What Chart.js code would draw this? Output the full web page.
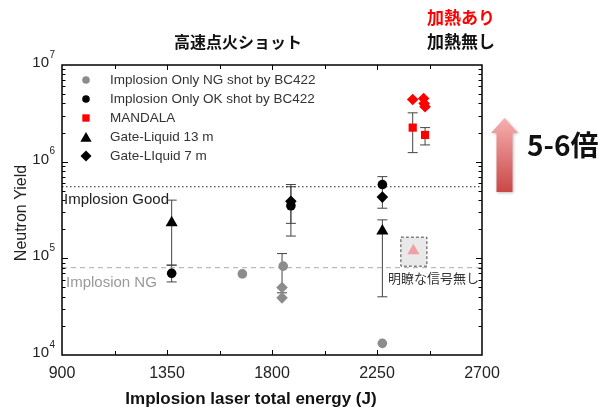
<!DOCTYPE html>
<html>
<head>
<meta charset="utf-8">
<script src="https://cdn.jsdelivr.net/npm/chart.js@4/dist/chart.umd.min.js"></script>
<style>
html,body{margin:0;padding:0;background:#fff}
#wrap{width:598px;height:407px}
</style>
</head>
<body>
<div id="wrap"><canvas id="c" width="598" height="407"></canvas></div>
<script>
// axis ticks
const xTicks=[900,1350,1800,2250,2700];
const yDecades=[1e4,1e5,1e6,1e7];

// series (energy J, neutron yield), error bars as [low, high]
const ngX=[1673,1848,2273];
const ngY=[6.9e4,8.3e4,1.32e4];
const ngDiaX=[1843,1843];
const ngDiaY=[5.0e4,3.9e4];
const ngDiaErr=[[4.4e4,1.12e5],null];
const okX=[1370,1881,2273];
const okY=[7.0e4,3.5e5,5.8e5];
const okErr=[[5.7e4,8.5e4],[1.7e5,5.5e5],[3.3e5,7.0e5]];
const mandalaX=[2403,2456];
const mandalaY=[2.25e6,1.89e6];
const mandalaErr=[[1.24e6,3.2e6],[1.49e6,2.25e6]];
const gl13X=[1370,2273];
const gl13Y=[2.34e5,1.92e5];
const gl13Err=[[8.5e4,4.0e5],[4.0e4,2.5e5]];
const gl7X=[1881,2273];
const gl7Y=[3.9e5,4.3e5];
const gl7Err=[[2.3e5,5.8e5],null];
const heatX=[2403,2450,2456,2452];
const heatY=[4.4e6,4.5e6,3.7e6,4.0e6];
const noSigX=[2406];
const noSigY=[1.2e5];
const goodLevel=5.5e5;
const ngLevel=8e4;

const F='"Liberation Sans", Arial, sans-serif';
const J='"Noto Sans CJK JP", sans-serif';
const pts=(xs,ys)=>xs.map((x,i)=>({x:x,y:ys[i]}));

function mark(ctx,style,x,y,r,color){
  ctx.save();ctx.fillStyle=color;ctx.beginPath();
  if(style==='circle'){ctx.arc(x,y,r,0,Math.PI*2);}
  else if(style==='rect'){const s=r*Math.SQRT1_2;ctx.rect(x-s,y-s,2*s,2*s);}
  else if(style==='rectRot'){ctx.moveTo(x,y-r);ctx.lineTo(x+r,y);ctx.lineTo(x,y+r);ctx.lineTo(x-r,y);ctx.closePath();}
  else if(style==='triangle'){ctx.moveTo(x,y-r);ctx.lineTo(x+r*0.866,y+r/2);ctx.lineTo(x-r*0.866,y+r/2);ctx.closePath();}
  ctx.fill();ctx.restore();
}

const datasets=[
  {label:'Implosion Only NG shot by BC422',data:pts(ngX,ngY),pointStyle:'circle',pointRadius:4.8,backgroundColor:'#8c8c8c',legend:true,lr:3.8},
  {label:'Implosion Only OK shot by BC422',data:pts(okX,okY),pointStyle:'circle',pointRadius:4.8,backgroundColor:'#000',errs:okErr,legend:true,lr:3.8},
  {label:'MANDALA',data:pts(mandalaX,mandalaY),pointStyle:'rect',pointRadius:5.8,backgroundColor:'#ff0000',errs:mandalaErr,legend:true,lr:5.2},
  {label:'Gate-Liquid 13 m',data:pts(gl13X,gl13Y),pointStyle:'triangle',pointRadius:7,backgroundColor:'#000',errs:gl13Err,legend:true,lr:6.5},
  {label:'Gate-LIquid 7 m',data:pts(gl7X,gl7Y),pointStyle:'rectRot',pointRadius:5.8,backgroundColor:'#000',errs:gl7Err,legend:true,lr:5.5},
  {label:'NG diamond',data:pts(ngDiaX,ngDiaY),pointStyle:'rectRot',pointRadius:5.8,backgroundColor:'#8c8c8c',errs:ngDiaErr},
  {label:'heated',data:pts(heatX,heatY),pointStyle:'rectRot',pointRadius:5.8,backgroundColor:'#ff0000'},
  {label:'no signal',data:pts(noSigX,noSigY),pointStyle:'triangle',pointRadius:7,backgroundColor:'#f0a0a4',boxed:true},
  {type:'line',label:'good',data:[{x:900,y:goodLevel},{x:2700,y:goodLevel}],borderColor:'#222',borderWidth:1,borderDash:[1.5,2.5],pointRadius:0},
  {type:'line',label:'ng',data:[{x:900,y:ngLevel},{x:2700,y:ngLevel}],borderColor:'#aaa',borderWidth:1,borderDash:[5,4],pointRadius:0}
];
datasets.forEach(d=>{d.pointBorderWidth=0;d.pointHoverRadius=d.pointRadius;if(!d.type){d.borderColor=d.backgroundColor;d.showLine=false;}});

const frame={
  id:'frame',
  beforeDatasetsDraw(chart){
    const ctx=chart.ctx,ys=chart.scales.y;
    chart.data.datasets.forEach((ds,di)=>{
      const meta=chart.getDatasetMeta(di);
      if(ds.boxed){
        meta.data.forEach(p=>{
          ctx.save();ctx.fillStyle='#e9e9e9';ctx.fillRect(p.x-12,p.y-13,25,28);
          ctx.strokeStyle='#444';ctx.lineWidth=1;ctx.setLineDash([3,2]);ctx.strokeRect(p.x-12.5,p.y-13.5,26,29);ctx.restore();
        });
      }
      if(!ds.errs) return;
      ds.errs.forEach((e,i)=>{
        if(!e) return;
        const p=meta.data[i];
        const y1=ys.getPixelForValue(e[0]),y2=ys.getPixelForValue(e[1]);
        ctx.save();ctx.strokeStyle='#444';ctx.lineWidth=1;ctx.beginPath();
        ctx.moveTo(p.x,y1);ctx.lineTo(p.x,y2);
        ctx.moveTo(p.x-5,y1);ctx.lineTo(p.x+5,y1);
        ctx.moveTo(p.x-5,y2);ctx.lineTo(p.x+5,y2);
        ctx.stroke();ctx.restore();
      });
    });
  },
  afterDraw(chart){
    const ctx=chart.ctx,a=chart.chartArea,xs=chart.scales.x,ys=chart.scales.y;
    ctx.save();
    // frame and inward ticks
    ctx.strokeStyle='#000';ctx.lineWidth=1.5;
    ctx.strokeRect(a.left,a.top,a.right-a.left,a.bottom-a.top);
    ctx.lineWidth=1;ctx.beginPath();
    for(let v=xTicks[0]+225;v<xTicks[xTicks.length-1];v+=225){
      const px=Math.round(xs.getPixelForValue(v))+0.5;
      const len=(v-900)%450===0?5:4;
      ctx.moveTo(px,a.bottom);ctx.lineTo(px,a.bottom-len);
      ctx.moveTo(px,a.top);ctx.lineTo(px,a.top+len);
    }
    for(let d=4;d<7;d++){
      for(let m=1;m<10;m++){
        if(d===4&&m===1) continue;
        const py=Math.round(ys.getPixelForValue(m*Math.pow(10,d)))+0.5;
        const len=m===1?6:3.5;
        ctx.moveTo(a.left,py);ctx.lineTo(a.left+len,py);
        ctx.moveTo(a.right,py);ctx.lineTo(a.right-len,py);
      }
    }
    ctx.stroke();
    // y tick labels 10^n
    ctx.fillStyle='#222';
    yDecades.forEach(v=>{
      const py=ys.getPixelForValue(v);
      ctx.font='15px '+F;ctx.textAlign='right';ctx.textBaseline='middle';
      ctx.fillText('10',49,py-2);
      ctx.font='10px '+F;ctx.textAlign='left';
      ctx.fillText(String(Math.round(Math.log10(v))),49.5,py-10);
    });
    // axis titles
    ctx.font='bold 17px '+F;ctx.textAlign='center';ctx.fillStyle='#111';
    ctx.fillText('Implosion laser total energy (J)',251,399);
    ctx.save();ctx.translate(22,213);ctx.rotate(-Math.PI/2);
    ctx.font='16px '+F;ctx.fillStyle='#222';ctx.fillText('Neutron Yield',0,0);ctx.restore();
    // legend
    let row=0;
    chart.data.datasets.forEach(ds=>{
      if(!ds.legend) return;
      const ly=80+row*19;
      mark(ctx,ds.pointStyle,86,ds.pointStyle==='triangle'?ly+1.5:ly,ds.lr,ds.backgroundColor);
      ctx.font='13.5px '+F;ctx.fillStyle='#333';ctx.textAlign='left';ctx.textBaseline='middle';
      ctx.fillText(ds.label,110,ly);
      row++;
    });
    // level labels
    ctx.font='15px '+F;ctx.textAlign='left';
    ctx.fillStyle='#222';ctx.fillText('Implosion Good',64,200);
    ctx.fillStyle='#999';ctx.fillText('Implosion NG',66,283);
    ctx.font='13px '+J;ctx.fillStyle='#333';ctx.fillText('明瞭な信号無し',388,278);
    // headings
    ctx.textAlign='center';
    ctx.font='bold 16px '+J;ctx.fillStyle='#111';ctx.fillText('高速点火ショット',238,42);
    ctx.font='bold 17px '+J;ctx.fillStyle='#ff0000';ctx.fillText('加熱あり',461,18);
    ctx.fillStyle='#111';ctx.fillText('加熱無し',461,42);
    ctx.font='bold 28px '+J;ctx.textAlign='left';ctx.fillText('5-6倍',527,145);
    // arrow
    const g=ctx.createLinearGradient(0,118,0,192);
    g.addColorStop(0,'#f7b0b0');g.addColorStop(1,'#c94747');
    ctx.fillStyle=g;ctx.shadowColor='rgba(0,0,0,0.25)';ctx.shadowBlur=3;ctx.shadowOffsetX=1;ctx.shadowOffsetY=1;
    ctx.beginPath();
    ctx.moveTo(504.5,118);ctx.lineTo(518,133);ctx.lineTo(512.5,133);ctx.lineTo(512.5,192);
    ctx.lineTo(496.5,192);ctx.lineTo(496.5,133);ctx.lineTo(491,133);ctx.closePath();ctx.fill();
    ctx.restore();
  }
};

new Chart(document.getElementById('c'),{
  type:'scatter',
  data:{datasets:datasets},
  options:{
    responsive:false,
    animation:false,
    layout:{padding:{top:65,right:116,left:0,bottom:0}},
    plugins:{legend:{display:false},tooltip:{enabled:false}},
    scales:{
      x:{
        type:'linear',min:900,max:2700,
        afterBuildTicks(s){s.ticks=xTicks.map(v=>({value:v}));},
        grid:{display:false,drawTicks:false},border:{display:false},
        ticks:{font:{family:F,size:16},color:'#222',padding:9,callback:v=>String(v)},
        afterFit(s){s.height=52;}
      },
      y:{
        type:'logarithmic',min:1e4,max:1e7,
        grid:{display:false,drawTicks:false},border:{display:false},
        ticks:{display:false},
        afterFit(s){s.width=62;}
      }
    }
  },
  plugins:[frame]
});
</script>
</body>
</html>
